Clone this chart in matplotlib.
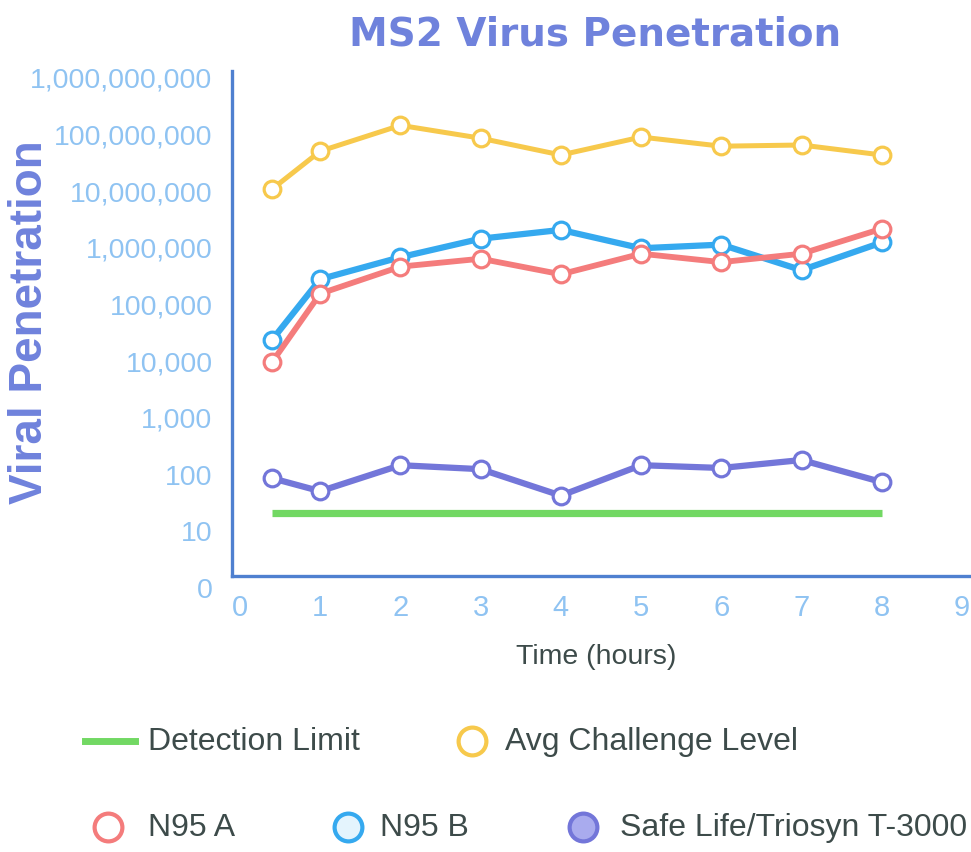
import numpy as np
import matplotlib
matplotlib.use("Agg")
import matplotlib.pyplot as plt
from matplotlib.lines import Line2D
from matplotlib import font_manager as fm

# ---------------- data ----------------
time_hours = [0.4, 1, 2, 3, 4, 5, 6, 7, 8]
avg_challenge = [1.05e7, 4.9e7, 1.4e8, 8.3e7, 4.2e7, 8.7e7, 6.0e7, 6.3e7, 4.2e7]
n95_a = [9.3e3, 1.5e5, 4.5e5, 6.2e5, 3.3e5, 7.6e5, 5.4e5, 7.6e5, 2.1e6]
n95_b = [2.3e4, 2.7e5, 6.6e5, 1.4e6, 2.0e6, 9.5e5, 1.1e6, 3.9e5, 1.2e6]
safe_life = [83, 49, 141, 120, 41, 141, 126, 174, 71]
detection_limit = [20] * len(time_hours)

y_tick_values = [1, 10, 100, 1e3, 1e4, 1e5, 1e6, 1e7, 1e8, 1e9]
y_tick_labels = ["0", "10", "100", "1,000", "10,000", "100,000", "1,000,000",
                 "10,000,000", "100,000,000", "1,000,000,000"]
x_ticks = list(range(10))
x_tick_labels = [str(v) for v in x_ticks]

title = "MS2 Virus Penetration"
y_label = "Viral Penetration"
x_label = "Time (hours)"
legend_names = ["Detection Limit", "Avg Challenge Level", "N95 A", "N95 B",
                "Safe Life/Triosyn T-3000"]

# ---------------- style ----------------
def pick(fams):
    for f in fams:
        try:
            fm.findfont(fm.FontProperties(family=f), fallback_to_default=False)
            return f
        except Exception:
            pass
    return "DejaVu Sans"

SANS = pick(["Liberation Sans", "DejaVu Sans"])

c_green = "#72d863"
c_yellow = "#f7c94c"
c_red = "#f47c7c"
c_blue = "#35a9ef"
c_purple = "#7376d9"
c_spine = "#4f80d0"
c_tick = "#8fc3f2"
c_title = "#6f82dc"
c_text = "#3d4b4a"

W, H = 971, 853
fig = plt.figure(figsize=(W / 100, H / 100), dpi=100)
fig.patch.set_facecolor("white")

ax_left, ax_right = 232, 970
ax_top, ax_bottom = 72, 588
ax = fig.add_axes([ax_left / W, 1 - ax_bottom / H, (ax_right - ax_left) / W,
                   (ax_bottom - ax_top) / H])
ax.set_facecolor("white")
ax.set_yscale("log")
ax.set_ylim(1, 10 ** 9.105)
ax.set_xlim(-0.1, 9.1)

mk = dict(marker="o", markersize=12, markerfacecolor="white", markeredgewidth=2.3)

ax.plot(time_hours, detection_limit, color=c_green, lw=5.2, solid_capstyle="butt", zorder=2)
ax.plot(time_hours, avg_challenge, color=c_yellow, lw=3.6, markeredgecolor=c_yellow, zorder=3, **mk)
ax.plot(time_hours, n95_b, color=c_blue, lw=4.5, markeredgecolor=c_blue, zorder=4, **mk)
ax.plot(time_hours, n95_a, color=c_red, lw=4.2, markeredgecolor=c_red, zorder=5, **mk)
ax.plot(time_hours, safe_life, color=c_purple, lw=4.5, markeredgecolor=c_purple, zorder=5, **mk)

for s in ["top", "right"]:
    ax.spines[s].set_visible(False)
spine_y = 10 ** 0.194
ax.spines["bottom"].set_position(("data", spine_y))
ax.spines["left"].set_bounds(spine_y, 10 ** 9.105)
for s in ["left", "bottom"]:
    ax.spines[s].set_color(c_spine)
    ax.spines[s].set_linewidth(2.4)

ax.set_yticks(y_tick_values)
ax.set_yticklabels(y_tick_labels)
ax.yaxis.set_minor_locator(matplotlib.ticker.NullLocator())
ax.set_xticks(x_ticks)
ax.set_xticklabels(x_tick_labels)
ax.tick_params(axis="y", length=0, pad=14, labelsize=20.5, labelcolor=c_tick)
ax.tick_params(axis="x", length=0, pad=12, labelsize=21, labelcolor=c_tick)
for lab in ax.get_xticklabels() + ax.get_yticklabels():
    lab.set_fontfamily(SANS)

fig.text(595 / W, 1 - 35 / H, title, ha="center", va="center", fontsize=28,
         fontweight="bold", color=c_title, family="DejaVu Sans")
fig.text(30 / W, 1 - 322 / H, y_label, ha="center", va="center", rotation=90,
         fontsize=33, fontweight="bold", color=c_title, family=SANS)
fig.text(596 / W, 1 - 657 / H, x_label, ha="center", va="center", fontsize=20.5,
         color=c_text, family=SANS)

# ---------------- legend (manual layout) ----------------
tf = fig.transFigure
def fx(px):
    return px / W
def fy(py):
    return 1 - py / H

r1, r2 = 742, 828
fs_leg = 23
fig.add_artist(Line2D([fx(85), fx(135)], [fy(r1), fy(r1)], color=c_green, lw=5,
                      transform=tf))
fig.text(fx(148), fy(r1), legend_names[0], ha="left", va="center", fontsize=fs_leg,
         color=c_text, family=SANS)

leg_mk = dict(marker="o", markersize=20, markeredgewidth=3, transform=tf, linestyle="none")
fig.add_artist(Line2D([fx(472)], [fy(r1)], markeredgecolor=c_yellow,
                      markerfacecolor="white", **leg_mk))
fig.text(fx(505), fy(r1), legend_names[1], ha="left", va="center", fontsize=fs_leg,
         color=c_text, family=SANS)

fig.add_artist(Line2D([fx(108)], [fy(r2)], markeredgecolor=c_red,
                      markerfacecolor="white", **leg_mk))
fig.text(fx(148), fy(r2), legend_names[2], ha="left", va="center", fontsize=fs_leg,
         color=c_text, family=SANS)
fig.add_artist(Line2D([fx(348)], [fy(r2)], markeredgecolor=c_blue,
                      markerfacecolor="#e4f4fd", **leg_mk))
fig.text(fx(380), fy(r2), legend_names[3], ha="left", va="center", fontsize=fs_leg,
         color=c_text, family=SANS)
fig.add_artist(Line2D([fx(583)], [fy(r2)], markeredgecolor=c_purple,
                      markerfacecolor="#a9abee", **leg_mk))
fig.text(fx(620), fy(r2), legend_names[4], ha="left", va="center", fontsize=fs_leg,
         color=c_text, family=SANS)

fig.savefig("out.png", dpi=100, facecolor="white")
